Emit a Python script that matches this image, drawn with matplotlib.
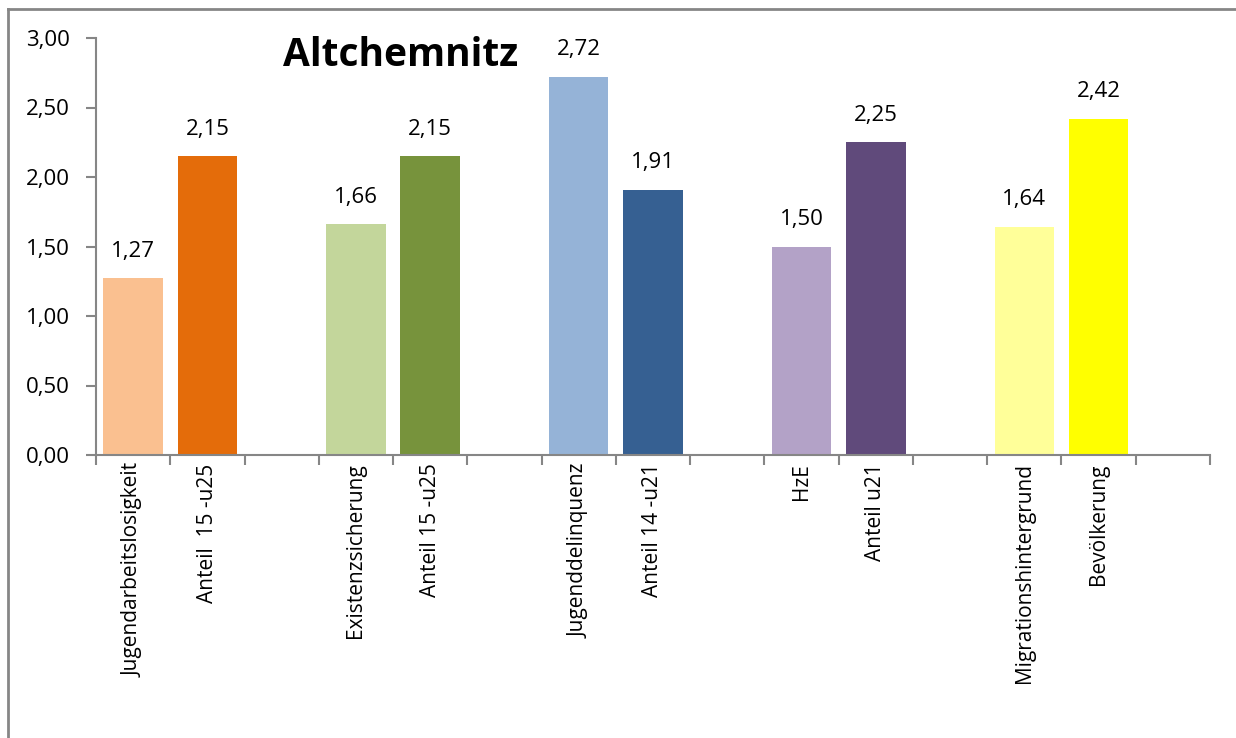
import matplotlib
matplotlib.use("Agg")
import matplotlib.pyplot as plt
from matplotlib.lines import Line2D

plt.rcParams['font.family'] = ['Open Sans', 'DejaVu Sans']

categories = ["Jugendarbeitslosigkeit", "Anteil  15 -u25", "",
              "Existenzsicherung", "Anteil 15 -u25", "",
              "Jugenddelinquenz", "Anteil 14 -u21", "",
              "HzE", "Anteil u21", "",
              "Migrationshintergrund", "Bevölkerung", ""]
values = [1.27, 2.15, None, 1.66, 2.15, None, 2.72, 1.91, None,
          1.50, 2.25, None, 1.64, 2.42, None]
colors = ["#FAC090", "#E46C0A", None, "#C3D69B", "#77933C", None,
          "#95B3D7", "#366092", None, "#B3A2C7", "#604A7B", None,
          "#FFFF99", "#FFFF00", None]
yticks = [0, 0.5, 1.0, 1.5, 2.0, 2.5, 3.0]
title = "Altchemnitz"

fig = plt.figure(figsize=(12.36, 7.38), dpi=100)
ax = fig.add_axes([96/1236, 1-455/738, (1210-96)/1236, (455-38)/738])

for i, (v, c) in enumerate(zip(values, colors)):
    if v is None:
        continue
    ax.bar(i, v, width=0.8, color=c)
    ax.annotate(f"{v:.2f}".replace(".", ","), (i, v), xytext=(0, 19.5),
                textcoords="offset points", ha="center", va="center", fontsize=16)

ax.set_xlim(-0.5, len(categories) - 0.5)
ax.set_ylim(0, 3.0)
ax.set_yticks(yticks)
ax.set_yticklabels([f"{t:.2f}".replace(".", ",") for t in yticks], fontsize=16)
ax.set_xticks([i - 0.5 for i in range(len(categories) + 1)])
ax.set_xticklabels([])
ax.set_xticks(range(len(categories)), minor=True)
ax.set_xticklabels(categories, minor=True, rotation=90, fontsize=15, va="top")
ax.tick_params(axis="x", which="minor", length=0, pad=6)
ax.tick_params(axis="x", which="major", length=7, color="#868686", width=1.5, direction="out")
ax.tick_params(axis="y", length=7, color="#868686", width=1.5, direction="out", pad=12)
for s in ["top", "right"]:
    ax.spines[s].set_visible(False)
for s in ["left", "bottom"]:
    ax.spines[s].set_color("#868686")
    ax.spines[s].set_linewidth(1.5)

fig.text(283/1236, 1-56/738, title, fontsize=28, fontweight="bold", va="center", ha="left")

fig.add_artist(Line2D([8/1236, 1], [1-9/738, 1-9/738], color="#868686", lw=2, transform=fig.transFigure))
fig.add_artist(Line2D([8/1236, 8/1236], [0, 1-9/738], color="#868686", lw=2, transform=fig.transFigure))

fig.savefig("out.png", dpi=100)
